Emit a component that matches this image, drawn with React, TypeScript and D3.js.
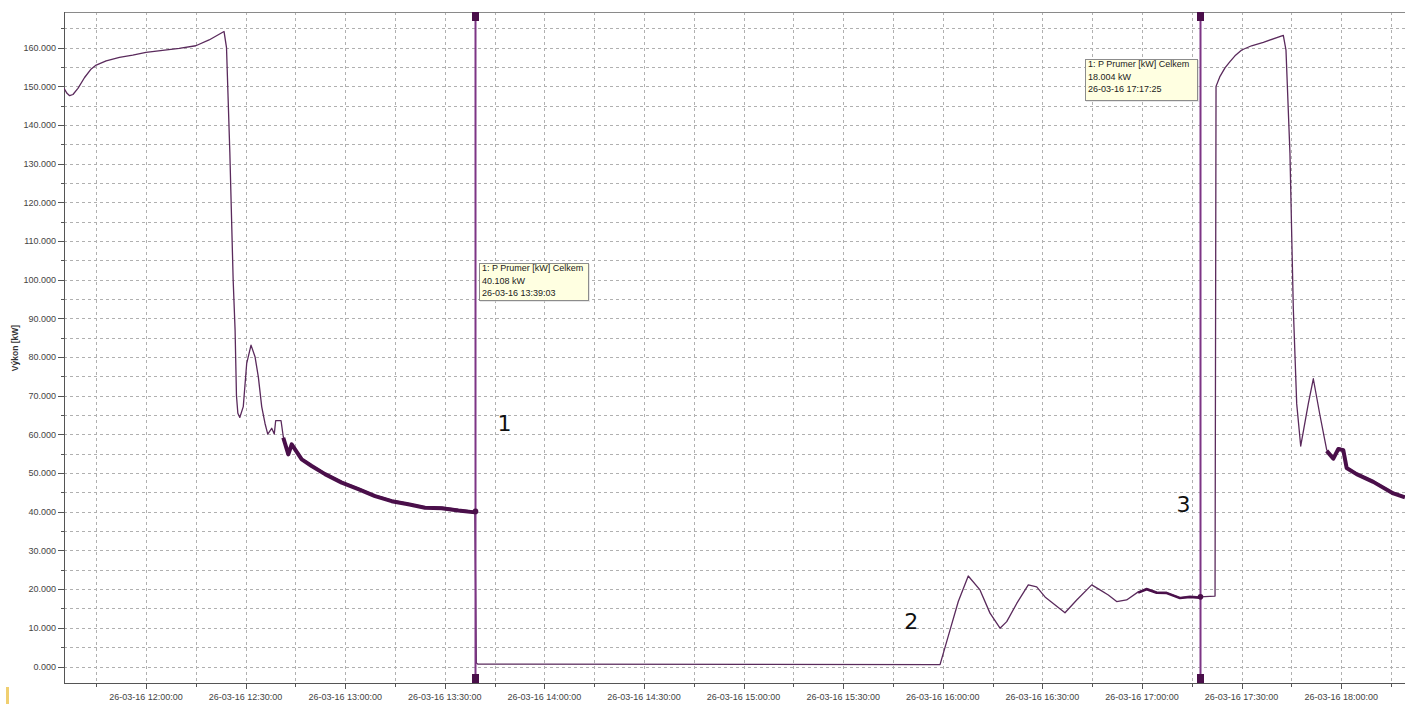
import React from "react";
import * as d3 from "d3";

// ---- data ----
const SAMPLE_TIMES = [
  "11:35:18", "11:36:12", "11:37:00", "11:38:00", "11:39:30", "11:41:30", "11:43:30", "11:45:00",
  "11:48:00", "11:52:00", "11:56:00", "12:00:00", "12:05:00", "12:10:00", "12:15:00", "12:19:00",
  "12:23:30", "12:24:15", "12:25:15", "12:26:15", "12:26:50", "12:27:15", "12:27:40", "12:28:15",
  "12:29:18", "12:30:20", "12:31:38", "12:32:50", "12:33:50", "12:34:51", "12:35:50", "12:36:40",
  "12:37:52", "12:38:38", "12:39:04", "12:40:40", "12:41:21", "12:42:52", "12:43:53", "12:46:54",
  "12:49:54", "12:53:55", "12:58:57", "13:03:57", "13:08:59", "13:14:00", "13:19:00", "13:24:02",
  "13:29:04", "13:34:04", "13:39:03", "13:39:30", "13:40:00", "15:59:10", "16:02:10", "16:04:40",
  "16:07:40", "16:11:12", "16:14:13", "16:17:14", "16:19:15", "16:22:16", "16:25:45", "16:28:17",
  "16:30:47", "16:36:48", "16:40:20", "16:44:51", "16:47:21", "16:49:51", "16:52:22", "16:55:22",
  "16:58:52", "17:01:24", "17:04:25", "17:07:26", "17:11:26", "17:14:27", "17:17:25", "17:22:00",
  "17:22:18", "17:23:30", "17:25:00", "17:26:30", "17:28:00", "17:30:02", "17:33:00", "17:36:33",
  "17:42:34", "17:43:22", "17:44:34", "17:45:34",
  "17:46:36", "17:47:48", "17:50:05", "17:51:36", "17:53:37", "17:55:38", "17:57:38", "17:59:08",
  "18:00:38", "18:01:38", "18:04:38", "18:09:40", "18:15:42", "18:19:12"
];
const POWER_KW = [
  149.5, 148.2, 147.6, 147.9, 149.5, 152.3, 154.5, 155.5,
  156.6, 157.5, 158.1, 158.8, 159.3, 159.8, 160.5, 162.0,
  164.2, 160.0, 133.0, 100.0, 87.0, 70.0, 65.5, 64.4,
  67.2, 78.4, 83.1, 80.1, 74.9, 67.2, 62.9, 60.1,
  61.6, 60.1, 63.6, 63.6, 59.4, 55.1, 57.7, 53.8,
  52.1, 50.0, 47.8, 46.1, 44.3, 43.0, 42.2, 41.3,
  41.2, 40.6, 40.108, 0.9, 0.6, 0.5, 9.4, 16.8,
  23.4, 19.8, 13.8, 9.9, 11.6, 16.3, 21.1, 20.6,
  18.0, 13.9, 17.2, 21.1, 19.8, 18.5, 16.8, 17.2,
  19.3, 20.2, 19.3, 19.2, 17.9, 18.2, 18.004, 18.2,
  150.0, 152.6, 154.8, 156.4, 157.9, 159.4, 160.5, 161.4,
  163.2, 159.4, 132.6, 92.8,
  67.9, 57.0, 67.9, 74.4, 64.9, 56.0, 54.0, 56.5,
  56.2, 51.6, 50.0, 48.0, 45.0, 44.0
];
// periods in which the recorded signal is noisy (drawn as a dense band)
const NOISY_FROM = ["12:41:00", "16:58:00", "17:55:00"];
const NOISY_TO = ["13:39:03", "17:17:25", "18:19:12"];

const CURSOR_TIMES = ["13:39:03", "17:17:25"];
const CURSOR_VALUES = [40.108, 18.004];
const CURSOR_LABEL = "1: P Prumer [kW] Celkem";
const CURSOR_VALUE_TEXT = ["40.108 kW", "18.004 kW"];
const CURSOR_TIME_TEXT = ["26-03-16 13:39:03", "26-03-16 17:17:25"];

const MARKER_LABELS = ["1", "2", "3"];
const MARKER_TIMES = ["13:48:00", "15:50:30", "17:12:30"];
const MARKER_VALUES = [60.8, 9.6, 40.0];

const Y_TICKS = [0, 10, 20, 30, 40, 50, 60, 70, 80, 90, 100, 110, 120, 130, 140, 150, 160];
const Y_TITLE = "Výkon [kW]";

const parse = d3.timeParse("%Y-%m-%d %H:%M:%S");
const T = (s: string) => parse("2016-03-26 " + s) as Date;

export default function App() {
  const W = 1405, H = 704;
  const left = 64, top = 12, bottom = 683, right = 1405;

  const x = d3.scaleTime().domain([T("12:00:00"), T("18:00:00")]).range([146, 1341.2]);
  const y = d3.scaleLinear().domain([0, 160]).range([666.5, 47.7]);

  const data = SAMPLE_TIMES.map((t, i) => ({ t: T(t), v: POWER_KW[i] }));
  const line = d3.line<{ t: Date; v: number }>().x(d => x(d.t)).y(d => y(d.v));

  const noisy = NOISY_FROM.map((f, i) => {
    const a = T(f), b = T(NOISY_TO[i]);
    return data.filter(d => d.t >= a && d.t <= b);
  });

  const hGrid = d3.range(0, 166, 5);
  const vGrid = d3.timeMinute.every(15)!.range(T("11:45:00"), T("18:20:00"));
  const xMajor = d3.timeMinute.every(30)!.range(T("12:00:00"), T("18:00:01"));
  const fmtX = d3.timeFormat("%d-%m-%y %H:%M:%S");
  const fmtY = d3.format(".3f");

  const font = "'Liberation Sans', Arial, sans-serif";
  const cursorColor = "#7d3585";
  const dark = "#4a0f4a";

  const tips = [
    { x0: 479, y0: 263, w: 109, h: 37 },
    { x0: 1085, y0: 59, w: 112, h: 41 },
  ];

  return (
    <svg width={W} height={H} style={{ position: "absolute", left: 0, top: 0, background: "#fff" }}
      fontFamily={font}>
      <rect x={0} y={0} width={W} height={H} fill="#fff" />
      <defs>
        <clipPath id="plot">
          <rect x={left} y={top} width={right - left} height={bottom - top} />
        </clipPath>
      </defs>

      {/* grid */}
      <g stroke="#b0b0b0" strokeWidth={1} strokeDasharray="3,3">
        {hGrid.map(v => (
          <line key={"h" + v} x1={left} x2={right} y1={Math.round(y(v)) + 0.5} y2={Math.round(y(v)) + 0.5} />
        ))}
        {vGrid.map(t => (
          <line key={"v" + +t} x1={Math.round(x(t)) + 0.5} x2={Math.round(x(t)) + 0.5} y1={top} y2={bottom} />
        ))}
      </g>

      {/* frame / axes */}
      <line x1={left} x2={right} y1={top + 0.5} y2={top + 0.5} stroke="#8a8a8a" />
      <line x1={left + 0.5} x2={left + 0.5} y1={top} y2={bottom} stroke="#555" />
      <line x1={left} x2={right} y1={bottom + 0.5} y2={bottom + 0.5} stroke="#555" />

      {/* y ticks */}
      {hGrid.map(v => (
        <line key={"yt" + v} x1={v % 10 === 0 ? 58 : 61} x2={left} y1={Math.round(y(v)) + 0.5}
          y2={Math.round(y(v)) + 0.5} stroke="#555" />
      ))}
      {Y_TICKS.map(v => (
        <text key={"yl" + v} x={56} y={y(v) + 3.2} textAnchor="end" fontSize={9} fill="#444">
          {fmtY(v)}
        </text>
      ))}
      <text transform={`translate(18,348) rotate(-90)`} textAnchor="middle" fontSize={8.5}
        fontWeight="bold" fill="#333">{Y_TITLE}</text>

      {/* x ticks */}
      {vGrid.map(t => {
        const major = t.getMinutes() % 30 === 0;
        return (
          <line key={"xt" + +t} x1={Math.round(x(t)) + 0.5} x2={Math.round(x(t)) + 0.5} y1={bottom}
            y2={bottom + (major ? 6 : 4)} stroke="#555" />
        );
      })}
      {xMajor.map(t => (
        <text key={"xl" + +t} x={x(t)} y={700} textAnchor="middle" fontSize={9} fill="#444">
          {fmtX(t)}
        </text>
      ))}

      {/* data */}
      <g clipPath="url(#plot)" fill="none" strokeLinejoin="round">
        <path d={line(data) ?? ""} stroke="#5a2a5c" strokeWidth={1.3} />
        {noisy.map((seg, i) => (
          <path key={"n" + i} d={line(seg) ?? ""} stroke={dark} strokeWidth={i === 1 ? 2.2 : 4}
            transform="translate(0,1)" />
        ))}
      </g>

      {/* cursors */}
      {CURSOR_TIMES.map((c, i) => {
        const cx = Math.round(x(T(c))) + 0.5;
        return (
          <g key={"c" + i}>
            <line x1={cx} x2={cx} y1={top} y2={bottom} stroke={cursorColor} strokeWidth={2} />
            <rect x={cx - 3.5} y={top} width={7} height={9} fill={dark} />
            <rect x={cx - 3.5} y={bottom - 9} width={7} height={9} fill={dark} />
            <circle cx={cx} cy={y(CURSOR_VALUES[i])} r={2.8} fill={dark} />
          </g>
        );
      })}

      {/* cursor tooltips */}
      {tips.map((b, i) => (
        <g key={"tip" + i}>
          <rect x={b.x0 + 1.5} y={b.y0 + 1.5} width={b.w} height={b.h} fill="none" stroke="#cfcfcf"
            strokeDasharray="1,1" />
          <rect x={b.x0 + 0.5} y={b.y0 + 0.5} width={b.w} height={b.h} fill="#ffffe1" stroke="#8c8c8c" />
          {[CURSOR_LABEL, CURSOR_VALUE_TEXT[i], CURSOR_TIME_TEXT[i]].map((s, j) => (
            <text key={j} x={b.x0 + 3} y={b.y0 + 8 + j * 12.5} fontSize={9} fill="#222">{s}</text>
          ))}
        </g>
      ))}

      {/* annotation numbers */}
      {MARKER_LABELS.map((s, i) => (
        <text key={"m" + i} x={x(T(MARKER_TIMES[i]))} y={y(MARKER_VALUES[i])} textAnchor="middle"
          fontSize={22} fill="#111" fontFamily="'DejaVu Sans', sans-serif">{s}</text>
      ))}

      {/* small highlight mark bottom-left */}
      <rect x={6} y={687} width={3} height={17} fill="#f0cf70" />
    </svg>
  );
}
